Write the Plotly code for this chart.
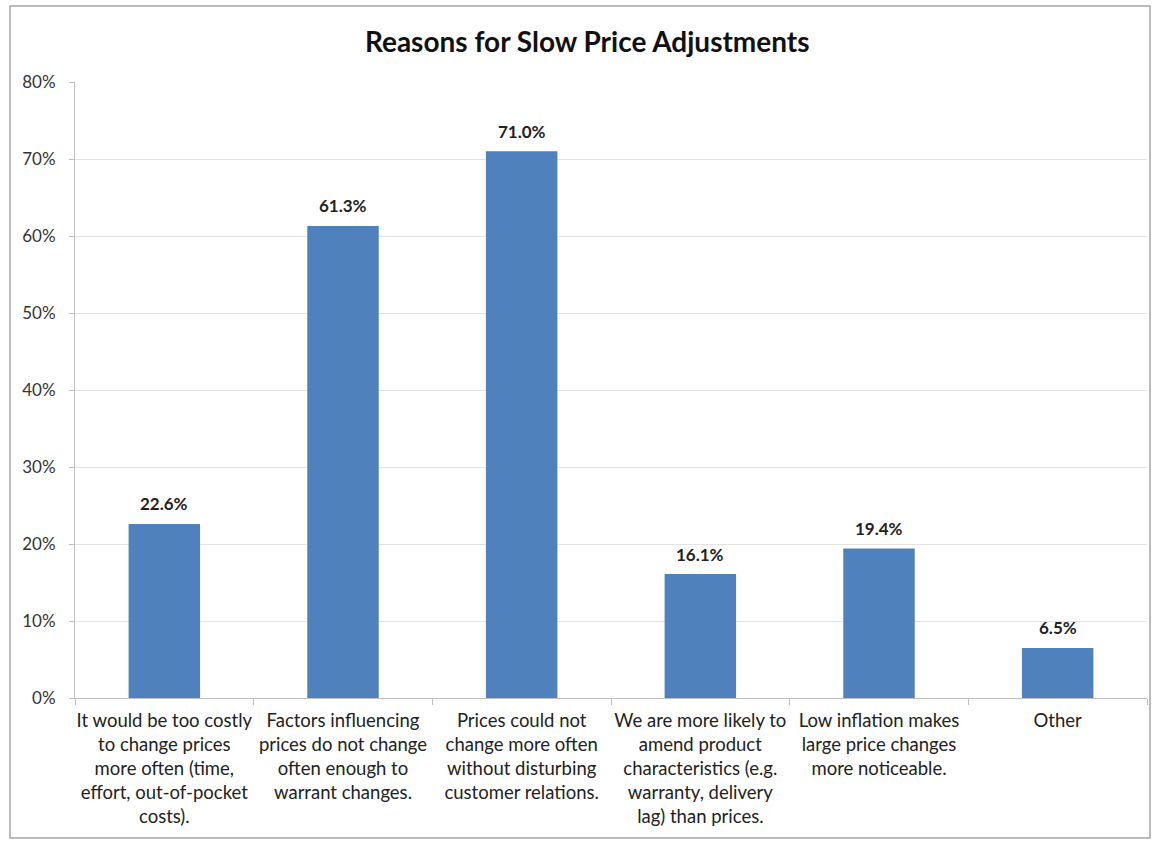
import plotly.graph_objects as go

categories = [
    "It would be too costly<br>to change prices<br>more often (time,<br>effort, out-of-pocket<br>costs).",
    "Factors influencing<br>prices do not change<br>often enough to<br>warrant changes.",
    "Prices could not<br>change more often<br>without disturbing<br>customer relations.",
    "We are more likely to<br>amend product<br>characteristics (e.g.<br>warranty, delivery<br>lag) than prices.",
    "Low inflation makes<br>large price changes<br>more noticeable.",
    "Other",
]
shares = [0.226, 0.613, 0.710, 0.161, 0.194, 0.065]
y_ticks = [0, 0.1, 0.2, 0.3, 0.4, 0.5, 0.6, 0.7, 0.8]

FONT = "Lato"

fig = go.Figure(
    go.Bar(
        x=categories,
        y=shares,
        marker=dict(color="#4F81BD", line=dict(width=0)),
        width=0.4,
        hoverinfo="x+y",
    )
)

# value labels above each bar
for cat, val in zip(categories, shares):
    fig.add_annotation(
        x=cat,
        y=val,
        text=f"<b>{val * 100:.1f}%</b>",
        showarrow=False,
        yanchor="middle",
        yshift=20,
        font=dict(family=FONT, size=17, color="#222222"),
    )

fig.update_layout(
    width=1156,
    height=841,
    margin=dict(l=75, r=9, t=82, b=143, autoexpand=False),
    paper_bgcolor="white",
    plot_bgcolor="white",
    showlegend=False,
    title=dict(
        text="<b>Reasons for Slow Price Adjustments</b>",
        x=0.508,
        xanchor="center",
        y=0.95,
        yanchor="middle",
        font=dict(family=FONT, size=28, color="#111111"),
    ),
    font=dict(family=FONT, size=18.5, color="#222222"),
    xaxis=dict(
        showline=True,
        linecolor="#BFBFBF",
        linewidth=1,
        ticks="outside",
        tickson="boundaries",
        ticklen=6,
        tickcolor="#BFBFBF",
        tickangle=0,
        automargin=False,
        ticklabelstandoff=6,
        tickfont=dict(family=FONT, size=18.5, color="#222222"),
        showgrid=False,
    ),
    yaxis=dict(
        range=[0, 0.8],
        tickvals=y_ticks,
        tickformat=".0%",
        showline=True,
        linecolor="#BFBFBF",
        linewidth=1,
        ticks="outside",
        ticklen=5,
        tickcolor="#BFBFBF",
        ticklabelstandoff=10,
        automargin=False,
        showgrid=True,
        gridcolor="#E3E3E3",
        gridwidth=1,
        zeroline=False,
        tickfont=dict(family=FONT, size=17, color="#333333"),
    ),
    shapes=[
        dict(
            type="rect",
            xref="paper",
            yref="paper",
            x0=(10 - 75) / 1072,
            x1=(1150 - 75) / 1072,
            y0=-(838 - 698) / 616,
            y1=(698 - 6) / 616,
            line=dict(color="#A6A6A6", width=1.5),
            fillcolor="rgba(0,0,0,0)",
            layer="below",
        )
    ],
)

fig.write_html("out.html")
